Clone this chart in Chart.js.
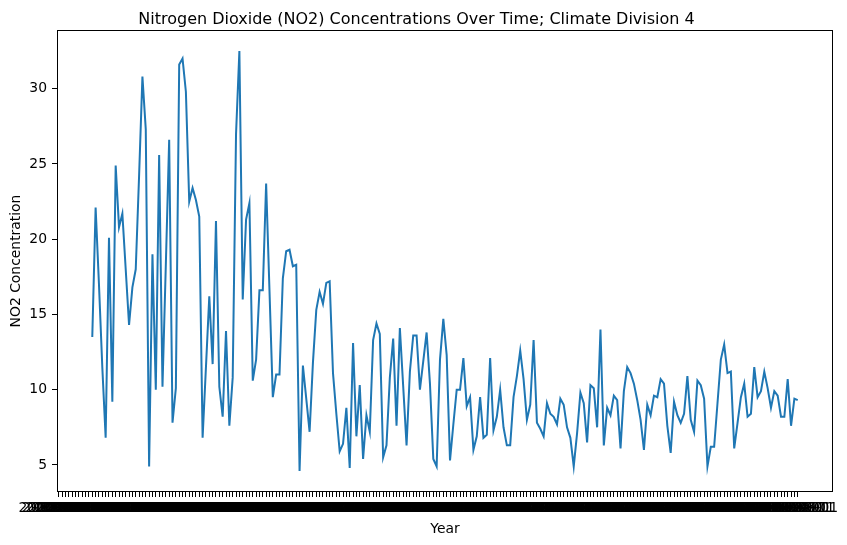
<!DOCTYPE html>
<html>
<head>
<meta charset="utf-8">
<script src="https://cdn.jsdelivr.net/npm/chart.js@4.4.1/dist/chart.umd.min.js"></script>
<style>
  html, body { margin: 0; padding: 0; background: #fff; }
  #wrap { width: 847px; height: 545px; }
</style>
</head>
<body>
<div id="wrap"><canvas id="no2Chart" width="847" height="545"></canvas></div>
<script>
// Monthly category labels (first months have no reading)
const startYear = 2000;
const monthCount = 222;
const yearLabels = [];
for (let k = 0; k < monthCount; k++) {
    const y = startYear + Math.floor(k / 12);
    const m = String(k % 12 + 1).padStart(2, '0');
    yearLabels.push(y + '-' + m + '-01');
}

// NO2 concentration (null = no data)
const no2Values = [
    null, null, null, null, null, null, null, null, null, null,
    13.5, 22.1, 17.0, 11.5, 6.8, 20.1, 9.2, 24.9, 20.8, 21.7,
    18.0, 14.3, 16.8, 18.0, 24.2, 30.8, 27.3, 4.9, 19.0, 10.0,
    25.6, 10.2, 18.3, 26.6, 7.8, 10.1, 31.6, 32.0, 29.8, 22.5,
    23.4, 22.6, 21.5, 6.8, 11.5, 16.2, 11.7, 21.2, 10.2, 8.2,
    13.9, 7.6, 10.8, 27.0, 32.5, 16.0, 21.3, 22.4, 10.6, 12.0,
    16.6, 16.6, 23.7, 16.6, 9.5, 11.0, 11.0, 17.4, 19.2, 19.3,
    18.2, 18.3, 4.6, 11.6, 9.4, 7.2, 11.8, 15.3, 16.5, 15.7,
    17.1, 17.2, 11.1, 8.4, 5.9, 6.4, 8.8, 4.8, 13.1, 6.9,
    10.3, 5.4, 8.3, 7.2, 13.3, 14.4, 13.7, 5.5, 6.3, 10.8,
    13.4, 7.6, 14.1, 10.2, 6.3, 11.2, 13.6, 13.6, 10.0, 11.9,
    13.8, 10.4, 5.4, 4.9, 12.0, 14.7, 12.3, 5.3, 7.7, 10.0,
    10.0, 12.1, 8.9, 9.5, 6.0, 6.9, 9.5, 6.8, 7.0, 12.1,
    7.3, 8.2, 10.0, 7.5, 6.3, 6.3, 9.5, 10.9, 12.6, 10.7,
    8.0, 9.0, 13.3, 7.8, 7.4, 6.9, 9.1, 8.4, 8.2, 7.7,
    9.4, 9.0, 7.5, 6.8, 4.9, 7.1, 9.8, 9.1, 6.5, 10.3,
    10.1, 7.5, 14.0, 6.3, 8.8, 8.3, 9.6, 9.3, 6.1, 9.9,
    11.5, 11.1, 10.4, 9.3, 8.0, 6.0, 9.0, 8.3, 9.6, 9.5,
    10.7, 10.4, 7.6, 5.8, 9.2, 8.3, 7.8, 8.4, 10.9, 8.0,
    7.2, 10.6, 10.3, 9.4, 4.9, 6.2, 6.2, 9.1, 12.0, 13.0,
    11.1, 11.2, 6.1, 7.8, 9.5, 10.4, 8.2, 8.4, 11.5, 9.5,
    9.9, 11.2, 10.1, 8.8, 9.9, 9.6, 8.2, 8.2, 10.7, 7.6,
    9.4, 9.3
];

const yTicks = [5, 10, 15, 20, 25, 30];

document.addEventListener('DOMContentLoaded', function() {
    // x limits like matplotlib: 5% margin around the valid points
    const valid = no2Values.map((v, i) => v === null ? -1 : i).filter(i => i >= 0);
    const first = valid[0];
    const last = valid[valid.length - 1];
    const xPad = (last - first) * 0.05;

    const points = no2Values.map((v, i) => ({ x: i, y: v }));

    const frame = {
        id: 'frame',
        afterDraw(chart) {
            const a = chart.chartArea;
            const ctx = chart.ctx;
            ctx.save();
            ctx.strokeStyle = '#000';
            ctx.lineWidth = 1;
            ctx.strokeRect(a.left + 0.5, a.top + 0.5, a.right - a.left - 1, a.bottom - a.top - 1);
            ctx.restore();
        }
    };

    const font = "'DejaVu Sans', sans-serif";

    new Chart(document.getElementById('no2Chart'), {
        type: 'line',
        data: {
            datasets: [{
                data: points,
                borderColor: '#1f77b4',
                borderWidth: 2,
                pointRadius: 0,
                tension: 0,
                spanGaps: false
            }]
        },
        options: {
            responsive: false,
            animation: false,
            devicePixelRatio: 1,
            layout: { padding: { left: 0, right: 14, top: 0, bottom: 0 } },
            plugins: {
                legend: { display: false },
                tooltip: { enabled: false },
                title: {
                    display: true,
                    text: 'Nitrogen Dioxide (NO2) Concentrations Over Time; Climate Division 4',
                    color: '#000',
                    font: { family: font, size: 16, weight: 'normal' },
                    padding: { top: 10, bottom: 0.8 }
                }
            },
            scales: {
                x: {
                    type: 'linear',
                    min: first - xPad,
                    max: last + xPad,
                    afterBuildTicks: function(scale) {
                        scale.ticks = yearLabels.map((l, i) => ({ value: i }));
                    },
                    afterFit: function(scale) { scale.height = 53; },
                    ticks: {
                        autoSkip: false,
                        maxRotation: 0,
                        minRotation: 0,
                        padding: 3,
                        color: '#000',
                        font: { family: font, size: 13.9 },
                        callback: function(value) {
                            return yearLabels[value] || '';
                        }
                    },
                    grid: {
                        drawOnChartArea: false,
                        drawTicks: true,
                        tickLength: 5,
                        color: '#000'
                    },
                    border: { display: false },
                    title: {
                        display: true,
                        text: 'Year',
                        color: '#000',
                        font: { family: font, size: 13.9 },
                        padding: { top: 0, bottom: 7.6 }
                    }
                },
                y: {
                    min: 3.2,
                    max: 33.9,
                    afterBuildTicks: function(scale) {
                        scale.ticks = yTicks.map(v => ({ value: v }));
                    },
                    afterFit: function(scale) { scale.width = 57; },
                    ticks: {
                        padding: 5,
                        color: '#000',
                        font: { family: font, size: 13.9 }
                    },
                    grid: {
                        drawOnChartArea: false,
                        drawTicks: true,
                        tickLength: 5,
                        color: '#000'
                    },
                    border: { display: false },
                    title: {
                        display: true,
                        text: 'NO2 Concentration',
                        color: '#000',
                        font: { family: font, size: 13.9 },
                        padding: { top: 7.6, bottom: 0 }
                    }
                }
            }
        },
        plugins: [frame]
    });
});
</script>
</body>
</html>
